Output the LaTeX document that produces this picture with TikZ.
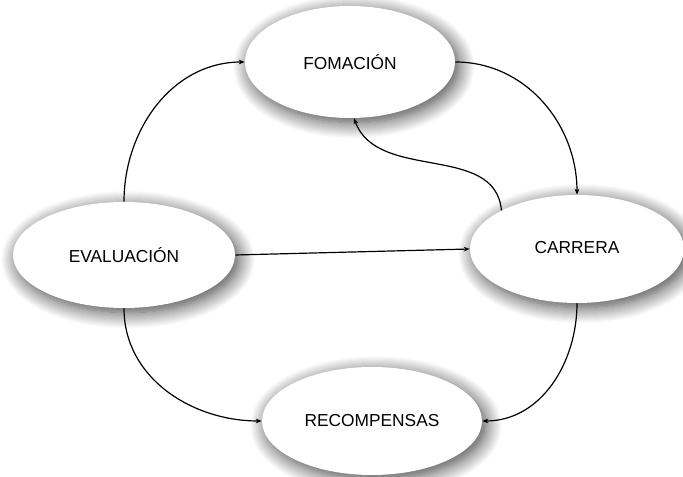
\documentclass[tikz,border=0pt]{standalone}
\usepackage{fontspec}
\setmainfont{Liberation Sans}
\usepackage{tikz}
\usetikzlibrary{shapes.geometric,arrows.meta,shadows.blur}

\begin{document}
\begin{tikzpicture}[
    bubble/.style={ellipse, fill=white, inner sep=0pt, font=\fontsize{13}{15}\selectfont,
      blur shadow={shadow xshift=3pt, shadow yshift=-3.5pt, shadow blur radius=12pt, shadow blur steps=16, shadow opacity=75}},
    link/.style={-{Stealth[length=4.5pt,width=3.5pt]}, line width=0.9pt}
  ]
  \useasboundingbox (0,0) rectangle (512.25pt,357.75pt);
  % Nodes
  \node[bubble, minimum width=157.5pt, minimum height=84pt] (fom) at (262.5pt,311.25pt) {FOMACIÓN};
  \node[bubble, minimum width=166.5pt, minimum height=79.5pt] (eval) at (93pt,166.5pt) {EVALUACIÓN};
  \node[bubble, minimum width=160.5pt, minimum height=81pt] (carr) at (432.75pt,171pt) {\raisebox{3pt}{CARRERA}};
  \node[bubble, minimum width=165pt, minimum height=81pt] (rec) at (279pt,42pt) {RECOMPENSAS};
  % Connectors
  \draw[link] (eval.north) to[out=90,in=180] (fom.west);
  \draw[link] (fom.east) to[out=0,in=90] (carr.north);
  \draw[link] (carr.153) to[out=95,in=-70] ([xshift=3pt]fom.south);
  \draw[link] (eval.east) -- (carr.west);
  \draw[link] (eval.south) to[out=-90,in=180] (rec.west);
  \draw[link] (carr.south) to[out=-90,in=0] (rec.east);
\end{tikzpicture}
\end{document}
